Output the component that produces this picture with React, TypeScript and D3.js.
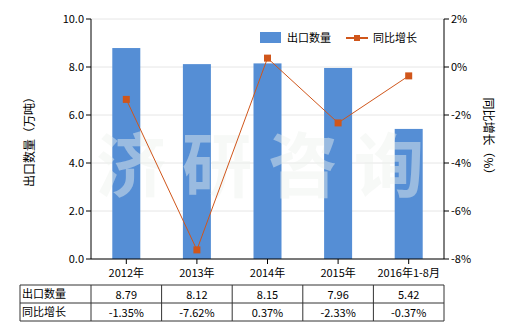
import React from "react";
import * as d3 from "d3";

const categories = ["2012年", "2013年", "2014年", "2015年", "2016年1-8月"];
const exportQty = [8.79, 8.12, 8.15, 7.96, 5.42];
const yoyGrowth = [-1.35, -7.62, 0.37, -2.33, -0.37];
const leftTicks = [0, 2, 4, 6, 8, 10];
const rightTicks = [-8, -6, -4, -2, 0, 2];
const rowLabels = ["出口数量", "同比增长"];

const W = 520, H = 330;
const M = { left: 91, right: 444, top: 19, bottom: 259 };
const FONT = "'Noto Sans CJK SC', 'Noto Sans', sans-serif";
const BAR = "#558ed5";
const LINE = "#d0561b";

export default function App() {
  const x = d3.scaleBand<string>().domain(categories).range([M.left, M.right]);
  const yL = d3.scaleLinear().domain([0, 10]).range([M.bottom, M.top]);
  const yR = d3.scaleLinear().domain([-8, 2]).range([M.bottom, M.top]);
  const cx = (c: string) => (x(c) as number) + x.bandwidth() / 2;
  const barW = 28;
  const line = d3.line<number>().x((_, i) => cx(categories[i])).y((d) => yR(d));
  const tTop = 285, rowH = 18;
  const cols = [20, ...categories.map((c) => x(c) as number), M.right];

  return (
    <svg width={W} height={H} style={{ position: "absolute", left: 0, top: 0 }} fontFamily={FONT}>
      <rect width={W} height={H} fill="#fff" />
      {leftTicks.map((t) => (
        <line key={t} x1={M.left} x2={M.right} y1={yL(t)} y2={yL(t)} stroke="#e6e6e6" />
      ))}
      {categories.map((c, i) => (
        <rect key={c} x={cx(c) - barW / 2} y={yL(exportQty[i])} width={barW} height={M.bottom - yL(exportQty[i])} fill={BAR} />
      ))}
      {/* watermark */}
      <text x={268} y={192} textAnchor="middle" fontSize={70} fontWeight="bold" fill="#eef2ee" opacity={0.45} letterSpacing={16}>济研咨询</text>
      <path d={line(yoyGrowth) || ""} fill="none" stroke={LINE} strokeWidth={1} />
      {yoyGrowth.map((v, i) => (
        <rect key={i} x={cx(categories[i]) - 3.5} y={yR(v) - 3.5} width={7} height={7} fill={LINE} />
      ))}
      {/* left axis */}
      <line x1={M.left} x2={M.left} y1={M.top} y2={M.bottom} stroke="#000" />
      {leftTicks.map((t) => (
        <g key={t}>
          <line x1={M.left - 5} x2={M.left} y1={yL(t)} y2={yL(t)} stroke="#000" />
          <text x={M.left - 7} y={yL(t) + 4} textAnchor="end" fontSize={11} fill="#000">{t.toFixed(1)}</text>
        </g>
      ))}
      {/* right axis */}
      <line x1={M.right} x2={M.right} y1={M.top} y2={M.bottom} stroke="#000" />
      {rightTicks.map((t) => (
        <g key={t}>
          <line x1={M.right} x2={M.right + 5} y1={yR(t)} y2={yR(t)} stroke="#000" />
          <text x={M.right + 7} y={yR(t) + 4} textAnchor="start" fontSize={11} fill="#000">{t}%</text>
        </g>
      ))}
      {/* bottom axis */}
      <line x1={M.left} x2={M.right} y1={M.bottom} y2={M.bottom} stroke="#000" />
      {categories.map((c) => (
        <g key={c}>
          <line x1={cx(c)} x2={cx(c)} y1={M.bottom} y2={M.bottom + 5} stroke="#000" />
          <text x={cx(c)} y={M.bottom + 18} textAnchor="middle" fontSize={11} fill="#000">{c}</text>
        </g>
      ))}
      {/* axis titles */}
      <text transform={`translate(34,${(M.top + M.bottom) / 2}) rotate(-90)`} textAnchor="middle" fontSize={12} fill="#000">出口数量（万吨）</text>
      <text transform={`translate(484,${(M.top + M.bottom) / 2}) rotate(90)`} textAnchor="middle" fontSize={12} fill="#000">同比增长（%）</text>
      {/* legend */}
      <rect x={260} y={32} width={21} height={11} fill={BAR} />
      <text x={287} y={42} fontSize={11} fill="#000">出口数量</text>
      <line x1={346} x2={368} y1={38} y2={38} stroke={LINE} strokeWidth={2} />
      <rect x={354} y={35} width={6} height={6} fill={LINE} />
      <text x={373} y={42} fontSize={11} fill="#000">同比增长</text>
      {/* table */}
      <g stroke="#333" strokeWidth={1}>
        {[0, 1, 2].map((r) => (
          <line key={r} x1={20} x2={M.right} y1={tTop + r * rowH} y2={tTop + r * rowH} />
        ))}
        {cols.map((c, i) => (
          <line key={i} x1={c} x2={c} y1={tTop} y2={tTop + 2 * rowH} />
        ))}
      </g>
      {rowLabels.map((l, r) => (
        <text key={l} x={22} y={tTop + r * rowH + 13} fontSize={11} fill="#000">{l}</text>
      ))}
      {categories.map((c, i) => (
        <g key={c}>
          <text x={cx(c)} y={tTop + 14} textAnchor="middle" fontSize={11} fill="#000">{exportQty[i].toFixed(2)}</text>
          <text x={cx(c)} y={tTop + rowH + 14} textAnchor="middle" fontSize={11} fill="#000">{yoyGrowth[i].toFixed(2)}%</text>
        </g>
      ))}
    </svg>
  );
}
